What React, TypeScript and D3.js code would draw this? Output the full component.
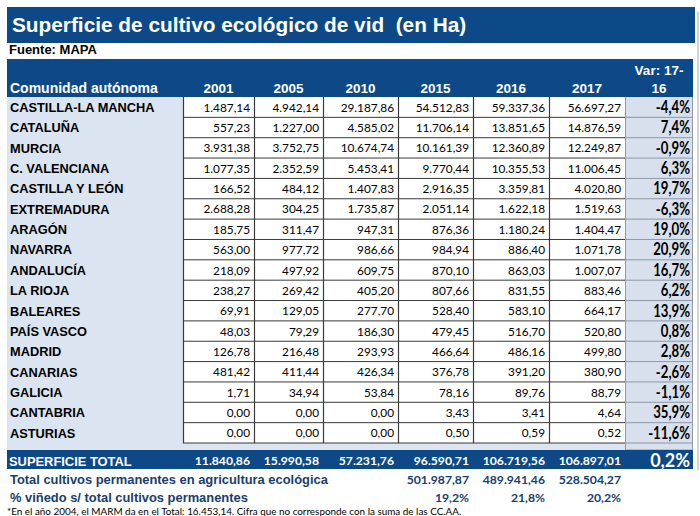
import React from "react";
import * as d3 from "d3";

const title = "Superficie de cultivo ecológico de vid  (en Ha)";
const source = "Fuente: MAPA";
const years = ["2001", "2005", "2010", "2015", "2016", "2017"];
const regions = [
  "CASTILLA-LA MANCHA", "CATALUÑA", "MURCIA", "C. VALENCIANA", "CASTILLA Y LEÓN",
  "EXTREMADURA", "ARAGÓN", "NAVARRA", "ANDALUCÍA", "LA RIOJA", "BALEARES",
  "PAÍS VASCO", "MADRID", "CANARIAS", "GALICIA", "CANTABRIA", "ASTURIAS",
];
const v2001 = [1487.14, 557.23, 3931.38, 1077.35, 166.52, 2688.28, 185.75, 563.0, 218.09, 238.27, 69.91, 48.03, 126.78, 481.42, 1.71, 0, 0];
const v2005 = [4942.14, 1227.0, 3752.75, 2352.59, 484.12, 304.25, 311.47, 977.72, 497.92, 269.42, 129.05, 79.29, 216.48, 411.44, 34.94, 0, 0];
const v2010 = [29187.86, 4585.02, 10674.74, 5453.41, 1407.83, 1735.87, 947.31, 986.66, 609.75, 405.2, 277.7, 186.3, 293.93, 426.34, 53.84, 0, 0];
const v2015 = [54512.83, 11706.14, 10161.39, 9770.44, 2916.35, 2051.14, 876.36, 984.94, 870.1, 807.66, 528.4, 479.45, 466.64, 376.78, 78.16, 3.43, 0.5];
const v2016 = [59337.36, 13851.65, 12360.89, 10355.53, 3359.81, 1622.18, 1180.24, 886.4, 863.03, 831.55, 583.1, 516.7, 486.16, 391.2, 89.76, 3.41, 0.59];
const v2017 = [56697.27, 14876.59, 12249.87, 11006.45, 4020.8, 1519.63, 1404.47, 1071.78, 1007.07, 883.46, 664.17, 520.8, 499.8, 380.9, 88.79, 4.64, 0.52];
const varPct = [-4.4, 7.4, -0.9, 6.3, 19.7, -6.3, 19.0, 20.9, 16.7, 6.2, 13.9, 0.8, 2.8, -2.6, -1.1, 35.9, -11.6];
const totals = [11840.86, 15990.58, 57231.76, 96590.71, 106719.56, 106897.01];
const totalVar = 0.2;
const permYears = ["2015", "2016", "2017"];
const permTotals = [501987.87, 489941.46, 528504.27];
const vinedoPct = [19.2, 21.8, 20.2];
const footnote = "*En el año 2004, el MARM da en el Total: 16.453,14. Cifra que no corresponde con la suma de las CC.AA.";

const series = [v2001, v2005, v2010, v2015, v2016, v2017];

const BLUE = "#0e4987";
const LIGHT = "#dbe5f1";
const VARBG = "#d7e0ec";
const NAVY = "#17406e";
const ARIAL = "'Liberation Sans', Arial, sans-serif";
const CAL = "Lato, 'Open Sans', sans-serif";

const loc = d3.formatLocale({ decimal: ",", thousands: ".", grouping: [3], currency: ["", "€"], minus: "-" });
const fmt = loc.format(",.2f");
const fmtP = (v: number) => loc.format(".1f")(v) + "%";

// column edges (layout)
const edges = [7, 183, 254, 323, 398, 473, 549, 625, 693];

export default function App() {
  const W = 700, H = 516;
  const y = d3.scaleBand<string>().domain(regions).range([97, 443]).paddingInner(0);
  const bw = y.bandwidth();
  const colX = d3.scaleOrdinal<string, number>().domain(years).range(edges.slice(1, 7));
  const colR = (yr: string) => edges[edges.indexOf(colX(yr)) + 1];
  const varL = edges[7], varR = edges[8];
  const dataL = edges[1], dataR = edges[7];

  return (
    <svg width={W} height={H} style={{ position: "absolute", left: 0, top: 0, display: "block", background: "#fff" }}>
      <line x1={698} x2={698} y1={12} y2={470} stroke="#d4d4d4" strokeWidth={2} />
      {/* title */}
      <rect x={7} y={7} width={688} height={36} fill={BLUE} />
      <text x={12} y={32} fill="#fff" fontFamily={ARIAL} fontWeight="bold" fontSize={20.8} style={{ whiteSpace: "pre" }}>{title}</text>
      <text x={9} y={54} fill="#000" fontFamily={ARIAL} fontWeight="bold" fontSize={13}>{source}</text>

      {/* header */}
      <rect x={7} y={59} width={686} height={38} fill={BLUE} />
      <text x={10} y={93} fill="#fff" fontFamily={ARIAL} fontWeight="bold" fontSize={14}>Comunidad autónoma</text>
      {years.map((yr) => (
        <text key={yr} x={(colX(yr) + colR(yr)) / 2} y={93} textAnchor="middle" fill="#fff" fontFamily={ARIAL} fontWeight="bold" fontSize={13.5}>{yr}</text>
      ))}
      <text x={(varL + varR) / 2} y={75} textAnchor="middle" fill="#fff" fontFamily={ARIAL} fontWeight="bold" fontSize={13.5}>Var: 17-</text>
      <text x={(varL + varR) / 2} y={93} textAnchor="middle" fill="#fff" fontFamily={ARIAL} fontWeight="bold" fontSize={13.5}>16</text>

      {/* body backgrounds */}
      <rect x={7} y={97} width={dataL - 7} height={353} fill={LIGHT} />
      <rect x={dataL} y={443} width={dataR - dataL} height={7} fill={LIGHT} />
      <rect x={varL} y={97} width={varR - varL} height={353} fill={VARBG} />
      <rect x={dataL} y={97} width={dataR - dataL} height={443 - 97} fill="#fff" />

      {/* grid */}
      {regions.map((r) => (
        <g key={"g" + r}>
          <line x1={dataL} x2={dataR} y1={(y(r) as number) + bw} y2={(y(r) as number) + bw} stroke="#3a3a3a" strokeWidth={1} />
          <line x1={varL} x2={varR} y1={(y(r) as number) + bw} y2={(y(r) as number) + bw} stroke="#8e98a6" strokeWidth={1} />
        </g>
      ))}
      {edges.slice(1, 7).map((e) => (
        <line key={"v" + e} x1={e + 0.5} x2={e + 0.5} y1={97} y2={443} stroke="#3a3a3a" strokeWidth={1.2} />
      ))}
      <line x1={varL + 0.5} x2={varL + 0.5} y1={97} y2={450} stroke="#8e98a6" strokeWidth={1} />
      <line x1={varR - 0.5} x2={varR - 0.5} y1={97} y2={450} stroke="#8e98a6" strokeWidth={1} />
      <line x1={varL} x2={varR} y1={450} y2={450} stroke="#8e98a6" strokeWidth={1} />

      {/* rows */}
      {regions.map((r, i) => {
        const top = y(r) as number;
        return (
          <g key={r}>
            <text x={10} y={top + 15} fill="#000" fontFamily={ARIAL} fontWeight="bold" fontSize={12.8}>{r}</text>
            {years.map((yr, j) => (
              <text key={yr} x={colR(yr) - 4} y={top + 14.7} textAnchor="end" fill="#000" fontFamily={CAL} fontSize={11.8}>{fmt(series[j][i])}</text>
            ))}
            <text transform={`translate(${varR - 3},${top + 16}) scale(0.8,1)`} textAnchor="end" fill="#000" fontFamily={CAL} fontWeight="bold" fontSize={16.5}>{fmtP(varPct[i])}</text>
          </g>
        );
      })}

      {/* total */}
      <rect x={7} y={450} width={686} height={19} fill={BLUE} />
      <text x={9} y={465.5} fill="#fff" fontFamily={ARIAL} fontWeight="bold" fontSize={12.9}>SUPERFICIE TOTAL</text>
      {years.map((yr, j) => (
        <text key={yr} x={colR(yr) - 4} y={465} textAnchor="end" fill="#fff" fontFamily={CAL} fontWeight="bold" fontSize={12.2}>{fmt(totals[j])}</text>
      ))}
      <text x={varR - 3} y={467} textAnchor="end" fill="#fff" fontFamily={CAL} fontWeight="bold" fontSize={18}>{fmtP(totalVar)}</text>

      <text x={10} y={483.5} fill={NAVY} fontFamily={ARIAL} fontWeight="bold" fontSize={12.9}>Total cultivos permanentes en agricultura ecológica</text>
      {permYears.map((yr, j) => (
        <text key={yr} x={colR(yr) - 4} y={484} textAnchor="end" fill={NAVY} fontFamily={CAL} fontWeight="bold" fontSize={12.2}>{fmt(permTotals[j])}</text>
      ))}
      <text x={10} y={502} fill={NAVY} fontFamily={ARIAL} fontWeight="bold" fontSize={12.9}>% viñedo s/ total cultivos permanentes</text>
      {permYears.map((yr, j) => (
        <text key={yr} x={colR(yr) - 4} y={502} textAnchor="end" fill={NAVY} fontFamily={CAL} fontWeight="bold" fontSize={12.2}>{fmtP(vinedoPct[j])}</text>
      ))}
      <text transform="translate(7,514.5) scale(1.1,1)" fill="#000" fontFamily={CAL} fontSize={9}>{footnote}</text>
    </svg>
  );
}
